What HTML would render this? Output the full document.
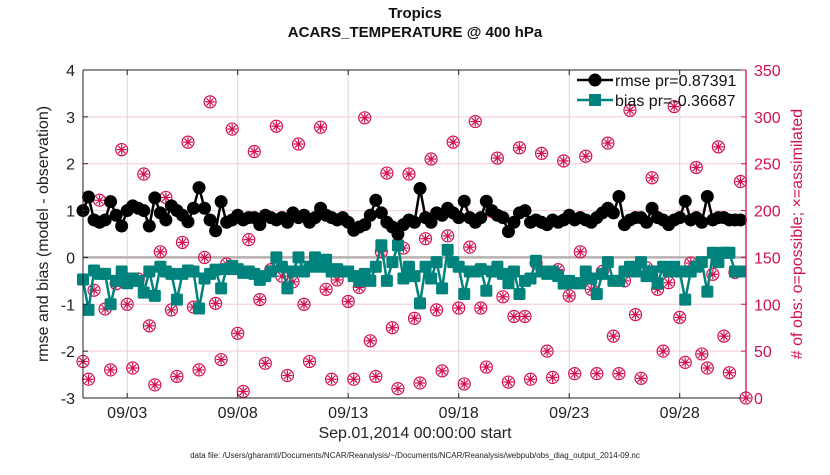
<!DOCTYPE html>
<html><head><meta charset="utf-8"><style>
body{margin:0;background:#fff;width:830px;height:470px;overflow:hidden;font-family:"Liberation Sans",sans-serif}
</style></head><body>
<svg id="c" width="830" height="470" xmlns="http://www.w3.org/2000/svg"></svg>
<script>
const xTickLabels=["09/03","09/08","09/13","09/18","09/23","09/28"];
const xTickDays=[2,7,12,17,22,27];
const leftTicks=[-3,-2,-1,0,1,2,3,4];
const rightTicks=[0,50,100,150,200,250,300,350];
const rmse=[1.0,1.29,0.8,0.75,0.8,1.19,0.9,0.67,1.0,1.1,1.05,1.0,0.67,1.27,0.95,0.8,1.1,1.0,0.9,0.76,1.05,1.49,1.05,0.8,0.57,1.19,0.75,0.8,0.9,0.8,
0.85,0.85,0.7,0.9,0.85,0.8,0.85,0.75,0.95,0.85,0.9,0.75,0.85,1.05,0.9,0.85,0.8,0.85,0.75,0.58,0.65,0.7,0.9,1.22,0.95,0.75,0.65,0.5,0.7,0.8,
0.75,1.47,0.85,0.75,0.95,0.9,1.05,0.95,0.85,1.2,0.85,0.75,0.85,1.2,1.0,0.9,0.85,0.55,0.75,0.95,1.0,0.75,0.8,0.75,0.7,0.8,0.75,0.8,0.9,0.8,
0.85,0.8,0.75,0.85,0.95,1.05,0.95,1.3,0.7,0.8,0.85,0.85,0.75,1.05,0.85,0.8,0.7,0.8,0.85,1.2,0.8,0.85,0.75,1.3,0.8,0.85,0.85,0.8,0.8,0.8];
const bias=[-0.47,-1.12,-0.28,-0.35,-0.35,-1.0,-0.5,-0.3,-0.55,-0.45,-0.5,-0.75,-0.3,-0.82,-0.2,-0.3,-0.35,-0.9,-0.35,-0.28,-0.3,-1.09,-0.45,-0.35,-0.26,-0.66,-0.25,-0.18,-0.25,-0.33,
-0.3,-0.35,-0.48,-0.4,-0.3,0.0,-0.2,-0.66,-0.3,0.0,-0.3,-0.2,0.0,-0.2,-0.05,-0.3,-0.25,-0.3,-0.3,-0.4,-0.5,-0.35,-0.5,-0.2,0.26,-0.5,-0.1,0.26,-0.45,-0.2,
-0.4,-0.98,-0.2,-0.45,-0.1,-0.66,0.16,-0.1,-0.2,-0.78,-0.3,-0.3,-0.25,-0.71,-0.3,-0.2,-0.35,-0.55,-0.3,-0.78,-0.5,-0.45,-0.07,-0.3,-0.35,-0.3,-0.4,-0.56,-0.5,-0.55,
-0.55,-0.3,-0.45,-0.78,-0.35,-0.1,-0.5,-0.5,-0.3,-0.2,-0.3,-0.1,-0.4,-0.3,-0.55,-0.2,-0.3,-0.2,-0.3,-0.9,-0.3,-0.2,-0.1,-0.73,0.1,-0.1,0.1,0.1,-0.3,-0.3];
const obs=[39,20,115,211,95,30,122,265,100,32,127,239,77,14,156,214,94,23,166,273,97,30,150,316,101,41,143,287,69,7,
169,263,105,37,137,290,130,24,124,271,100,39,141,289,116,20,126,191,103,20,118,299,61,23,156,240,75,10,160,239,
85,16,170,255,94,29,173,273,96,15,161,295,96,33,199,256,108,17,87,267,87,20,144,261,50,22,137,253,109,26,
156,258,116,26,135,272,66,26,125,307,89,21,139,235,116,50,123,311,86,38,144,246,47,32,132,268,66,27,134,231,0];

const L=83,R=746,T=70,B=398,NS="http://www.w3.org/2000/svg";
const xs=i=>L+(i*0.25)*(R-L)/30;
const xd=d=>L+d*(R-L)/30;
const yl=v=>B-(v+3)*(B-T)/7;
const yr=v=>B-v*(B-T)/350;
const svg=document.getElementById('c');
function mk(t,a,p){const e=document.createElementNS(NS,t);for(const k in a)e.setAttribute(k,a[k]);(p||svg).appendChild(e);return e;}
const PINK="#d3104f",TEAL="#00827d";
// grid
rightTicks.forEach(v=>{const g=mk('line',{x1:L,x2:R,y1:yr(v),y2:yr(v),stroke:'#f6c9d8','stroke-width':1});

});
xTickDays.forEach(d=>{const g=mk('line',{x1:xd(d),x2:xd(d),y1:T,y2:B,stroke:'#d8d8d8','stroke-width':1});

});
const zl=mk('line',{x1:L,x2:R,y1:yl(0),y2:yl(0),stroke:'#b8b0b0','stroke-width':2.5});


// obs markers
obs.forEach((v,i)=>{const g=mk('g',{transform:`translate(${xs(i)},${yr(v)})`,stroke:PINK,fill:'none','stroke-width':1.2});


mk('circle',{r:6},g);mk('line',{x1:-5,x2:5,y1:0,y2:0},g);mk('line',{x1:0,x2:0,y1:-5,y2:5},g);
mk('line',{x1:-3.5,x2:3.5,y1:-3.5,y2:3.5},g);mk('line',{x1:-3.5,x2:3.5,y1:3.5,y2:-3.5},g);});
// bias
const bl=mk('polyline',{points:bias.map((v,i)=>xs(i)+','+yl(v)).join(' '),fill:'none',stroke:TEAL,'stroke-width':2.5});


bias.forEach((v,i)=>{const r=mk('rect',{x:xs(i)-6,y:yl(v)-6,width:12,height:12,rx:1.5,fill:TEAL});

});
// rmse
const rl=mk('polyline',{points:rmse.map((v,i)=>xs(i)+','+yl(v)).join(' '),fill:'none',stroke:'#000','stroke-width':2.5});


rmse.forEach((v,i)=>{const c=mk('circle',{cx:xs(i),cy:yl(v),r:6.5,fill:'#000'});

});
// axes
const ax=mk('g',{});


mk('line',{x1:L,x2:R,y1:T,y2:T,stroke:'#222'},ax);
mk('line',{x1:L,x2:R,y1:B,y2:B,stroke:'#222'},ax);
mk('line',{x1:L,x2:L,y1:T,y2:B,stroke:'#222'},ax);
mk('line',{x1:R,x2:R,y1:T,y2:B,stroke:PINK,'stroke-width':1.3},ax);
leftTicks.forEach(v=>{mk('line',{x1:L,x2:L+5,y1:yl(v),y2:yl(v),stroke:'#222'},ax);
const t=mk('text',{x:L-8,y:yl(v)+6,'text-anchor':'end','font-size':16,fill:'#222'});t.textContent=v;

});
rightTicks.forEach(v=>{mk('line',{x1:R-5,x2:R,y1:yr(v),y2:yr(v),stroke:PINK},ax);
const t=mk('text',{x:R+8,y:yr(v)+6,'font-size':16,fill:PINK});t.textContent=v;

});
xTickDays.forEach((d,k)=>{mk('line',{x1:xd(d),x2:xd(d),y1:B,y2:B-5,stroke:'#222'},ax);mk('line',{x1:xd(d),x2:xd(d),y1:T,y2:T+5,stroke:'#222'},ax);
const t=mk('text',{x:xd(d),y:B+20,'text-anchor':'middle','font-size':16,fill:'#222'});t.textContent=xTickLabels[k];

});
</script>
<div style="position:absolute;left:0;width:830px;top:4px;text-align:center;font-weight:bold;font-size:15px;line-height:19px;color:#111">Tropics<br>ACARS_TEMPERATURE @ 400 hPa</div>
<div style="position:absolute;left:575px;top:72px;font-size:16px;color:#111;line-height:20px">
<div><svg width="40" height="14" style="vertical-align:-1px"><line x1="2" x2="38" y1="7" y2="7" stroke="#000" stroke-width="2.5"/><circle cx="20" cy="7" r="6.5"/></svg>rmse pr=0.87391</div>
<div><svg width="40" height="14" style="vertical-align:-1px"><line x1="2" x2="38" y1="7" y2="7" stroke="#00827d" stroke-width="2.5"/><rect x="14" y="1" width="12" height="12" fill="#00827d"/></svg>bias pr=-0.36687</div>
</div>
<div style="position:absolute;left:44px;top:234px;transform:translate(-50%,-50%) rotate(-90deg);white-space:nowrap;font-size:16px;color:#222">rmse and bias (model - observation)</div>
<div style="position:absolute;left:798px;top:234px;transform:translate(-50%,-50%) rotate(-90deg);white-space:nowrap;font-size:16px;color:#d3104f"># of obs: o=possible; ×=assimilated</div>
<div style="position:absolute;left:0;width:830px;top:425px;text-align:center;font-size:16px;color:#222">Sep.01,2014 00:00:00 start</div>
<div style="position:absolute;left:0;width:830px;top:451px;text-align:center;font-size:8px;color:#222">data file: /Users/gharamti/Documents/NCAR/Reanalysis/~/Documents/NCAR/Reanalysis/webpub/obs_diag_output_2014-09.nc</div>
</body></html>
